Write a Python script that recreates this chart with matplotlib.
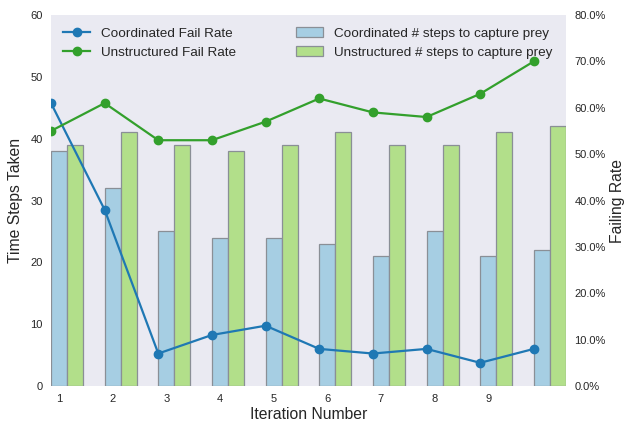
import numpy as np
import matplotlib.pyplot as plt
from matplotlib.ticker import PercentFormatter

plt.rcParams['font.family'] = ['Liberation Sans', 'DejaVu Sans']
plt.rcParams['text.color'] = '#262626'
plt.rcParams['axes.labelcolor'] = '#262626'
plt.rcParams['xtick.color'] = '#262626'
plt.rcParams['ytick.color'] = '#262626'

iterations = np.arange(10)
tick_labels = ['1', '2', '3', '4', '5', '6', '7', '8', '9']

# steps to capture prey
coord_steps = [38, 32, 25, 24, 24, 23, 21, 25, 21, 22]
unstruct_steps = [39, 41, 39, 38, 39, 41, 39, 39, 41, 42]

# failing rates (fraction)
coord_fail = [0.61, 0.38, 0.07, 0.11, 0.13, 0.08, 0.07, 0.08, 0.05, 0.08]
unstruct_fail = [0.55, 0.61, 0.53, 0.53, 0.57, 0.62, 0.59, 0.58, 0.63, 0.70]

width = 0.3

fig = plt.figure(figsize=(6.25, 4.23), dpi=100)
ax = fig.add_axes([0.0816, 0.0875, 0.824, 0.877])
ax.set_facecolor('#EAEAF2')
for s in ax.spines.values():
    s.set_visible(False)

b1 = ax.bar(iterations, coord_steps, width, align='edge', color='#a6cee3',
            edgecolor='#8a8f96', linewidth=0.9, label='Coordinated # steps to capture prey')
b2 = ax.bar(iterations + width, unstruct_steps, width, align='edge', color='#b2df8a',
            edgecolor='#8a8f96', linewidth=0.9, label='Unstructured # steps to capture prey')
ax.set_ylim(0, 60)
ax.set_xlim(0, 9.6)
ax.set_xticks(iterations[:9] + width / 2)
ax.set_xticklabels(tick_labels)
ax.tick_params(length=0, labelsize=8, pad=6)
ax.set_xlabel('Iteration Number', fontsize=11.3, labelpad=2)
ax.set_ylabel('Time Steps Taken', fontsize=11.3, labelpad=5)

ax2 = ax.twinx()
for s in ax2.spines.values():
    s.set_visible(False)
l1, = ax2.plot(iterations, coord_fail, color='#1f78b4', marker='o', markersize=6,
               linewidth=1.6, label='Coordinated Fail Rate')
l2, = ax2.plot(iterations, unstruct_fail, color='#33a02c', marker='o', markersize=6,
               linewidth=1.6, label='Unstructured Fail Rate')
ax2.set_ylim(0, 0.8)
ax2.yaxis.set_major_formatter(PercentFormatter(1.0, decimals=1))
ax2.tick_params(length=0, labelsize=8, pad=6)
ax2.set_ylabel('Failing Rate', fontsize=11.3, labelpad=3)

ax2.legend([l1, l2, b1, b2],
           [l1.get_label(), l2.get_label(), b1.get_label(), b2.get_label()],
           ncol=2, loc='upper left', frameon=False, fontsize=9.7,
           columnspacing=4.5, handlelength=2.0, borderaxespad=0.5)

fig.savefig('out.png', dpi=100)
